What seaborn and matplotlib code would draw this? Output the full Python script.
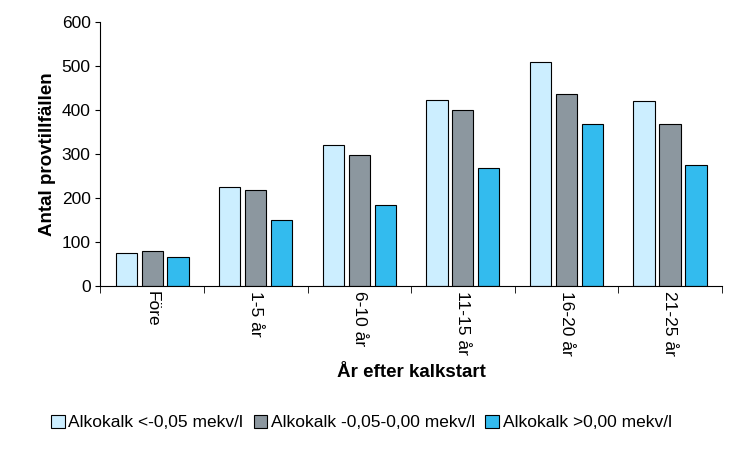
import matplotlib
matplotlib.use("Agg")
import matplotlib.pyplot as plt
import seaborn as sns
import pandas as pd

categories = ["Före", "1-5 år", "6-10 år", "11-15 år", "16-20 år", "21-25 år"]
series = ["Alkokalk <-0,05 mekv/l", "Alkokalk -0,05-0,00 mekv/l", "Alkokalk >0,00 mekv/l"]
s1 = [75, 225, 320, 422, 508, 420]
s2 = [80, 218, 298, 400, 437, 368]
s3 = [65, 150, 183, 268, 368, 275]
colors = ["#CCEEFF", "#8C979F", "#33BBEE"]

rows = []
for name, vals in zip(series, [s1, s2, s3]):
    for c, v in zip(categories, vals):
        rows.append({"cat": c, "series": name, "val": v})
df = pd.DataFrame(rows)

plt.rcParams["font.family"] = "Liberation Sans"
fig = plt.figure(figsize=(7.55, 4.5), dpi=100)
ax = fig.add_axes([0.133, 0.365, 0.823, 0.586])
sns.barplot(data=df, x="cat", y="val", hue="series", palette=colors, saturation=1,
            edgecolor="black", linewidth=0.8, width=0.75, gap=0.18, ax=ax)
ax.set_ylim(0, 600)
ax.set_yticks(range(0, 601, 100))
ax.set_xlim(-0.5, 5.5)
ax.set_xticks([x + 0.5 for x in range(-1, 6)], minor=True)
ax.tick_params(axis="x", which="major", length=0, labelrotation=-90, labelsize=12.5)
ax.tick_params(axis="x", which="minor", length=5)
ax.tick_params(axis="y", labelsize=12.5)
for s in ["top", "right"]:
    ax.spines[s].set_visible(False)
ax.set_xlabel("År efter kalkstart", fontsize=13.5, fontweight="bold", labelpad=6)
ax.set_ylabel("Antal provtillfällen", fontsize=13.5, fontweight="bold")
ax.legend(loc="upper center", bbox_to_anchor=(0.42, -0.43), ncol=3, frameon=False,
          fontsize=12.5, handlelength=0.8, handleheight=0.8, handletextpad=0.2, columnspacing=0.6)
fig.savefig("out.png", dpi=100)
